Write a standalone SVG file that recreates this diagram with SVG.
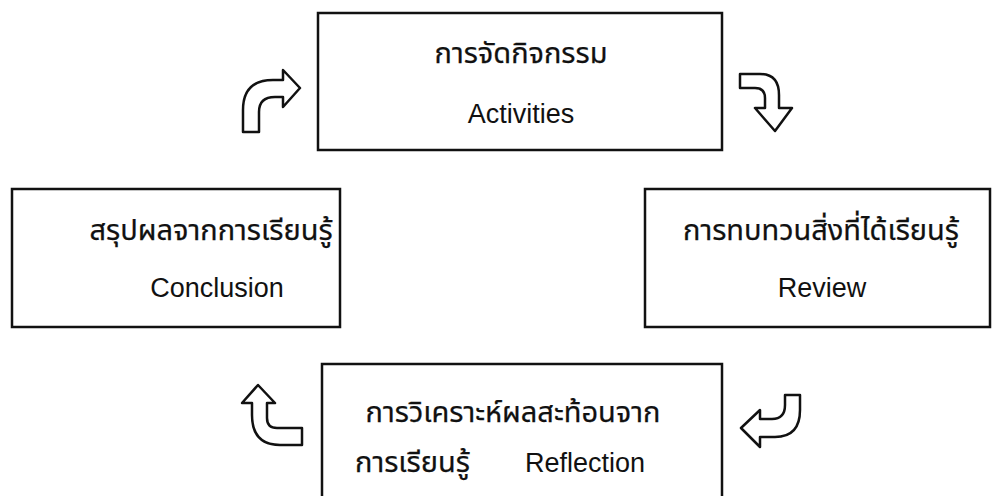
<svg xmlns="http://www.w3.org/2000/svg" width="999" height="496" viewBox="0 0 999 496">
<style>
.box{fill:#fff;stroke:#111;stroke-width:2.5}
.th{font-family:"Noto Sans Thai","Noto Sans Thai Looped","Noto Sans","DejaVu Sans",sans-serif;font-size:29px;fill:#111;stroke:#111;stroke-width:0.25}
.en{font-family:"Liberation Sans",Arial,sans-serif;font-size:27px;fill:#111}
.arr{fill:#fff;stroke:#111;stroke-width:2.5;stroke-linejoin:round}
</style>
<rect width="999" height="496" fill="#fff"/>
<g id="activities">
<rect class="box" x="318" y="13" width="404" height="137"/>
<text class="th" x="521" y="63" text-anchor="middle">การจัดกิจกรรม</text>
<text class="en" x="521" y="123" text-anchor="middle">Activities</text>
</g>
<g id="conclusion">
<rect class="box" x="12" y="189" width="328" height="138"/>
<text class="th" x="211" y="240" text-anchor="middle">สรุปผลจากการเรียนรู้</text>
<text class="en" x="217" y="297" text-anchor="middle">Conclusion</text>
</g>
<g id="review">
<rect class="box" x="645" y="189" width="345" height="138"/>
<text class="th" x="821" y="240" text-anchor="middle">การทบทวนสิ่งที่ได้เรียนรู้</text>
<text class="en" x="822" y="297" text-anchor="middle">Review</text>
</g>
<g id="reflection">
<rect class="box" x="322" y="364" width="400" height="150"/>
<text class="th" x="513" y="422" text-anchor="middle">การวิเคราะห์ผลสะท้อนจาก</text>
<text class="th" x="355" y="472">การเรียนรู้</text>
<text class="en" x="645" y="472" text-anchor="end">Reflection</text>
</g>
<g id="connectors">
<path class="arr" d="M243,132 L243,110 Q243,80 273,80 L283,80 L283,70 L300,88 L283,107 L283,97 L275,97 Q259,97 259,112 L259,132 Z"/>
<path class="arr" d="M740,74 L760,74 Q779,74 779,95 L779,108 L792,108 L775,131 L755,108 L765,108 L765,98 Q765,88 755,88 L740,88 Z"/>
<path class="arr" d="M741,428 L760,410 L760,419 L772,419 Q785,419 785,405 L785,395 L800,395 L800,410 Q800,437 775,437 L760,437 L760,447 Z"/>
<path class="arr" d="M258,385 L275,403 L267,403 L267,418 Q267,428 277,428 L302,428 L302,445 L280,445 Q252,445 252,415 L252,403 L242,403 Z"/>
</g>
</svg>
